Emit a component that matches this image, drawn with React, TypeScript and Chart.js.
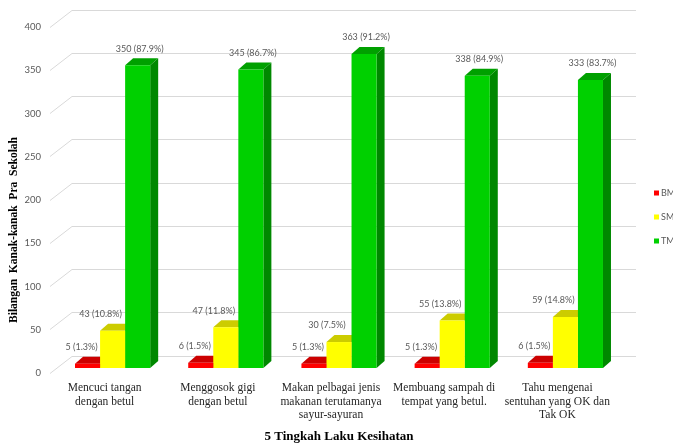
import React, { useEffect, useRef } from "react";
import { Chart, registerables } from "chart.js";

Chart.register(...registerables);

const categories: string[][] = [
  ["Mencuci tangan", "dengan betul"],
  ["Menggosok gigi", "dengan betul"],
  ["Makan pelbagai jenis", "makanan terutamanya", "sayur-sayuran"],
  ["Membuang sampah di", "tempat yang betul."],
  ["Tahu mengenai", "sentuhan yang OK dan", "Tak OK"],
];
const seriesNames = ["BM", "SM", "TM"];
const bmValues = [5, 6, 5, 5, 6];
const smValues = [43, 47, 30, 55, 59];
const tmValues = [350, 345, 363, 338, 333];
const bmPct = ["1.3%", "1.5%", "1.3%", "1.3%", "1.5%"];
const smPct = ["10.8%", "11.8%", "7.5%", "13.8%", "14.8%"];
const tmPct = ["87.9%", "86.7%", "91.2%", "84.9%", "83.7%"];
const yTitle = "Bilangan  Kanak-kanak  Pra  Sekolah";
const xTitle = "5 Tingkah Laku Kesihatan";

const frontColors = ["#ff0000", "#ffff00", "#00d000"];
const topColors = ["#cc0000", "#cccc00", "#00a000"];
const sideColors = ["#aa0000", "#aaaa00", "#008800"];
const labelDx = [-6, -12, 2];

const DEPTH_X = 8;
const DEPTH_Y = 7;
const WALL_DX = 22;
const WALL_DY = 17;

const App: React.FC = () => {
  const ref = useRef<HTMLCanvasElement | null>(null);

  useEffect(() => {
    document.body.style.margin = "0";
    const canvas = ref.current;
    if (!canvas) return;

    const pcts = [bmPct, smPct, tmPct];
    const values = [bmValues, smValues, tmValues];

    const threeD = {
      id: "threeD",
      beforeDatasetsDraw(chart: any) {
        const ctx = chart.ctx as CanvasRenderingContext2D;
        const y = chart.scales.y;
        const area = chart.chartArea;
        ctx.save();
        ctx.strokeStyle = "#d9d9d9";
        ctx.lineWidth = 1;
        const frontLeft = area.left - 6;
        y.ticks.forEach((t: any) => {
          const py = y.getPixelForValue(t.value);
          const fy = py + 4.5;
          const by = fy - WALL_DY;
          ctx.beginPath();
          ctx.moveTo(frontLeft, Math.round(fy) + 0.5);
          ctx.lineTo(frontLeft + WALL_DX, Math.round(by) + 0.5);
          ctx.lineTo(area.right + 14, Math.round(by) + 0.5);
          ctx.stroke();
        });
        for (let d = 0; d < 3; d++) {
          const meta = chart.getDatasetMeta(d);
          meta.data.forEach((bar: any) => {
            const { x, y: top, base, width } = bar.getProps(["x", "y", "base", "width"], true);
            const l = x - width / 2;
            const r = x + width / 2;
            ctx.fillStyle = topColors[d];
            ctx.beginPath();
            ctx.moveTo(l, top);
            ctx.lineTo(l + DEPTH_X, top - DEPTH_Y);
            ctx.lineTo(r + DEPTH_X, top - DEPTH_Y);
            ctx.lineTo(r, top);
            ctx.closePath();
            ctx.fill();
            ctx.fillStyle = sideColors[d];
            ctx.beginPath();
            ctx.moveTo(r, top);
            ctx.lineTo(r + DEPTH_X, top - DEPTH_Y);
            ctx.lineTo(r + DEPTH_X, base - DEPTH_Y);
            ctx.lineTo(r, base);
            ctx.closePath();
            ctx.fill();
          });
        }
        ctx.restore();
      },
      afterDatasetsDraw(chart: any) {
        const ctx = chart.ctx as CanvasRenderingContext2D;
        ctx.save();
        ctx.font = "9px Lato, 'Open Sans', sans-serif";
        ctx.fillStyle = "#595959";
        ctx.textAlign = "center";
        ctx.textBaseline = "middle";
        for (let d = 0; d < 3; d++) {
          const meta = chart.getDatasetMeta(d);
          meta.data.forEach((bar: any, i: number) => {
            const { x, y: top } = bar.getProps(["x", "y"], true);
            ctx.fillText(`${values[d][i]} (${pcts[d][i]})`, x + labelDx[d], top - 16.5);
          });
        }
        ctx.restore();
      },
      afterDraw(chart: any) {
        const ctx = chart.ctx as CanvasRenderingContext2D;
        ctx.save();
        ctx.font = "bold 11.5px 'Liberation Serif', 'Times New Roman', serif";
        ctx.fillStyle = "#000000";
        ctx.textAlign = "center";
        ctx.textBaseline = "middle";
        ctx.translate(14, 230);
        ctx.rotate(-Math.PI / 2);
        ctx.fillText(yTitle, 0, 0);
        ctx.restore();
        ctx.save();
        ctx.font = "9px Lato, 'Open Sans', sans-serif";
        ctx.textBaseline = "middle";
        const ly = [193, 217, 241];
        for (let d = 0; d < 3; d++) {
          ctx.fillStyle = frontColors[d];
          ctx.fillRect(654, ly[d] - 2.5, 5, 5);
          ctx.fillStyle = "#595959";
          ctx.fillText(seriesNames[d], 661, ly[d]);
        }
        ctx.restore();
      },
    };

    const chart = new Chart(canvas, {
      type: "bar",
      data: {
        labels: categories,
        datasets: [
          { label: seriesNames[0], data: bmValues, backgroundColor: frontColors[0] },
          { label: seriesNames[1], data: smValues, backgroundColor: frontColors[1] },
          { label: seriesNames[2], data: tmValues, backgroundColor: frontColors[2] },
        ],
      },
      options: {
        animation: false,
        responsive: false,
        maintainAspectRatio: false,
        layout: { padding: { left: 0, top: 22, right: 51, bottom: 0 } },
        datasets: { bar: { barPercentage: 1, categoryPercentage: 0.664 } },
        plugins: {
          legend: { display: false },
          tooltip: { enabled: false },
        },
        scales: {
          x: {
            grid: { display: false, drawTicks: false },
            border: { display: false },
            ticks: {
              autoSkip: false,
              maxRotation: 0,
              minRotation: 0,
              padding: 13.5,
              labelOffset: -8,
              color: "#262626",
              font: { family: "'Liberation Serif', 'Times New Roman', serif", size: 11.5, lineHeight: 1.17 },
            },
            title: {
              display: true,
              text: xTitle,
              color: "#000000",
              font: { family: "'Liberation Serif', 'Times New Roman', serif", size: 13, weight: "bold" },
              padding: { top: 5, bottom: 0 },
            },
            afterFit: (s: any) => {
              s.height = 76;
            },
          },
          y: {
            min: 0,
            max: 400,
            grid: { display: false, drawTicks: false },
            border: { display: false },
            ticks: {
              stepSize: 50,
              padding: 15,
              labelOffset: 5,
              color: "#595959",
              font: { family: "Lato, 'Open Sans', sans-serif", size: 9.5 },
            },
            afterFit: (s: any) => {
              s.width = 56;
            },
          },
        },
      },
      plugins: [threeD],
    } as any);

    return () => chart.destroy();
  }, []);

  return (
    <div style={{ width: 673, height: 444, overflow: "hidden", background: "#ffffff" }}>
      <canvas ref={ref} width={673} height={444} style={{ display: "block" }} />
    </div>
  );
};

export default App;
